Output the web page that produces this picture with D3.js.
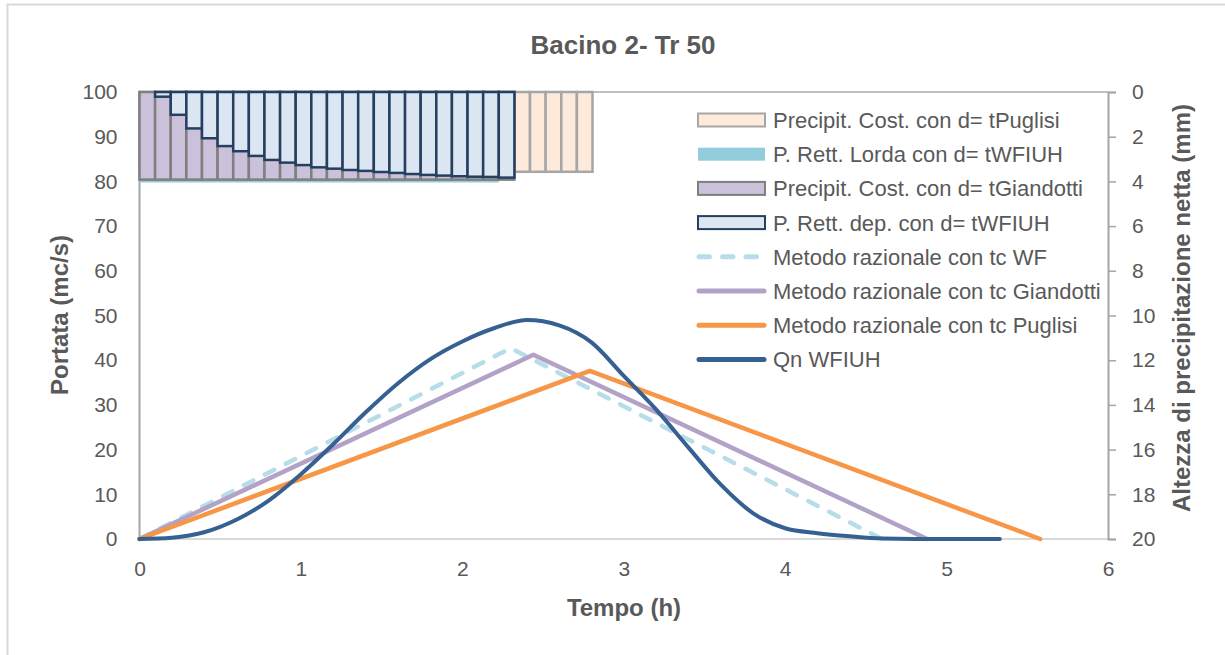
<!DOCTYPE html>
<html>
<head>
<meta charset="utf-8">
<script src="https://cdn.jsdelivr.net/npm/d3@7"></script>
<style>
  body { margin: 0; background: #fff; }
  svg text { font-family: "Liberation Sans", Arial, sans-serif; fill: #595959; }
</style>
</head>
<body>
<div id="chart"></div>
<script>
// ---- data -------------------------------------------------------
const xTicks = [0, 1, 2, 3, 4, 5, 6];
const qTicks = [0, 10, 20, 30, 40, 50, 60, 70, 80, 90, 100];
const mmTicks = [0, 2, 4, 6, 8, 10, 12, 14, 16, 18, 20];

// rain bars (mm), one per time step, hanging from the top
const pPuglisi = [3.57, 3.57, 3.57, 3.57, 3.57, 3.57, 3.57, 3.57, 3.57, 3.57,
                  3.57, 3.57, 3.57, 3.57, 3.57, 3.57, 3.57, 3.57, 3.57, 3.57,
                  3.57, 3.57, 3.57, 3.57, 3.57, 3.57, 3.57, 3.57, 3.57];
const pLorda = [4.05, 4.05, 4.05, 4.05, 4.05, 4.05, 4.05, 4.05, 4.05, 4.05,
                4.05, 4.05, 4.05, 4.05, 4.05, 4.05, 4.05, 4.05, 4.05, 4.05,
                4.05, 4.05, 4.05];
const pGiandotti = [3.92, 3.92, 3.92, 3.92, 3.92, 3.92, 3.92, 3.92, 3.92, 3.92,
                    3.92, 3.92, 3.92, 3.92, 3.92, 3.92, 3.92, 3.92, 3.92, 3.92,
                    3.92, 3.92, 3.92, 3.92];
const pDep = [0, 0.21, 1.02, 1.63, 2.07, 2.42, 2.65, 2.86, 3.04, 3.16,
              3.27, 3.37, 3.43, 3.49, 3.53, 3.58, 3.62, 3.67, 3.71, 3.74,
              3.77, 3.79, 3.80, 3.83];

// rational method hydrographs (t in h, Q in mc/s)
const wfT = [0, 2.30, 4.60],        wfQ = [0, 42.7, 0];
const giaT = [0, 2.44, 4.88],       giaQ = [0, 41.2, 0];
const pugT = [0, 2.79, 5.58],       pugQ = [0, 37.6, 0];

// WFIUH hydrograph
const qnT = [0, 0.2, 0.4, 0.6, 0.8, 1.0, 1.2, 1.4, 1.6, 1.8, 2.0, 2.2, 2.4,
             2.6, 2.8, 3.0, 3.2, 3.4, 3.6, 3.8, 4.0, 4.2, 4.4, 4.6, 4.8, 5.0, 5.33];
const qnQ = [0, 0.3, 1.5, 4.3, 8.6, 14.5, 21.2, 28.3, 34.8, 40.2, 44.2, 47.2, 49.0,
             47.8, 44.0, 36.5, 29.0, 20.5, 12.2, 5.8, 2.4, 1.3, 0.6, 0.1, 0, 0, 0];

const legendLabels = [
  'Precipit. Cost. con d= tPuglisi',
  'P. Rett. Lorda con d= tWFIUH',
  'Precipit. Cost. con d= tGiandotti',
  'P. Rett. dep. con d= tWFIUH',
  'Metodo razionale con tc WF',
  'Metodo razionale con tc Giandotti',
  'Metodo razionale con tc Puglisi',
  'Qn WFIUH'
];

// ---- layout -----------------------------------------------------
const W = 1225, H = 655;
const pLeft = 139.5, pRight = 1108, pTop = 92, pBottom = 539;
const nSlots = 62;   // category slots of the secondary (bar) axis

const svg = d3.select('#chart').append('svg')
  .attr('width', W).attr('height', H);

// outer chart frame
svg.append('rect')
  .attr('x', 7.5).attr('y', 4.5)
  .attr('width', W + 20).attr('height', H + 20)
  .attr('fill', 'none').attr('stroke', '#d9d9d9').attr('stroke-width', 2);

const x = d3.scaleLinear().domain([0, 6]).range([pLeft, pRight]);
const y = d3.scaleLinear().domain([0, 100]).range([pBottom, pTop]);
const yMm = d3.scaleLinear().domain([0, 20]).range([pTop, pBottom]);
const xb = d3.scaleBand().domain(d3.range(nSlots)).range([pLeft, pRight]).paddingInner(0);

// title
svg.append('text')
  .attr('x', 623).attr('y', 54)
  .attr('text-anchor', 'middle')
  .attr('font-size', '26px').attr('font-weight', 'bold')
  .text('Bacino 2- Tr 50');

// axis lines
svg.append('line')
  .attr('x1', pLeft).attr('x2', pRight).attr('y1', pBottom).attr('y2', pBottom)
  .attr('stroke', '#d9d9d9').attr('stroke-width', 2);
svg.append('line')
  .attr('x1', pLeft).attr('x2', pRight).attr('y1', pTop).attr('y2', pTop)
  .attr('stroke', '#bfbfbf').attr('stroke-width', 2);
svg.append('line')
  .attr('x1', pLeft).attr('x2', pLeft).attr('y1', pTop).attr('y2', pBottom)
  .attr('stroke', '#a6a6a6').attr('stroke-width', 2);

// right axis (reversed mm)
const rAxis = svg.append('g')
  .attr('transform', `translate(${pRight},0)`)
  .call(d3.axisRight(yMm).tickValues(mmTicks).tickSize(8).tickPadding(16));
rAxis.select('.domain').attr('stroke', '#a6a6a6').attr('stroke-width', 2);
rAxis.selectAll('.tick line').attr('stroke', '#a6a6a6').attr('stroke-width', 1.5);
rAxis.selectAll('.tick text')
  .attr('fill', '#595959').attr('font-size', '21px')
  .attr('font-family', '"Liberation Sans", Arial, sans-serif');

// left axis labels
const lAxis = svg.append('g')
  .attr('transform', `translate(${pLeft},0)`)
  .call(d3.axisLeft(y).tickValues(qTicks).tickSize(0).tickPadding(22));
lAxis.select('.domain').remove();
lAxis.selectAll('.tick text')
  .attr('fill', '#595959').attr('font-size', '21px')
  .attr('font-family', '"Liberation Sans", Arial, sans-serif');

// bottom axis labels
const bAxis = svg.append('g')
  .attr('transform', `translate(0,${pBottom})`)
  .call(d3.axisBottom(x).tickValues(xTicks).tickFormat(d3.format('d'))
    .tickSize(0).tickPadding(22));
bAxis.select('.domain').remove();
bAxis.selectAll('.tick text')
  .attr('fill', '#595959').attr('font-size', '21px')
  .attr('font-family', '"Liberation Sans", Arial, sans-serif');

// axis titles
svg.append('text')
  .attr('transform', `translate(68,315) rotate(-90)`)
  .attr('text-anchor', 'middle')
  .attr('font-size', '24px').attr('font-weight', 'bold')
  .text('Portata (mc/s)');
svg.append('text')
  .attr('transform', `translate(1190,308) rotate(-90)`)
  .attr('text-anchor', 'middle')
  .attr('font-size', '24px').attr('font-weight', 'bold')
  .text('Altezza di precipitazione netta (mm)');
svg.append('text')
  .attr('x', 624).attr('y', 616)
  .attr('text-anchor', 'middle')
  .attr('font-size', '24px').attr('font-weight', 'bold')
  .text('Tempo (h)');

// ---- rain bars --------------------------------------------------
function bars(vals, fill, stroke, sw) {
  svg.append('g').selectAll('rect')
    .data(vals.map((v, i) => ({ i, v })).filter(d => d.v > 0))
    .join('rect')
      .attr('x', d => xb(d.i))
      .attr('y', yMm(0))
      .attr('width', xb.bandwidth())
      .attr('height', d => yMm(d.v) - yMm(0))
      .attr('fill', fill)
      .attr('stroke', stroke)
      .attr('stroke-width', sw);
}
bars(pPuglisi, '#fdeada', '#a6a6a6', 2.5);
bars(pLorda, '#92cddc', 'none', 0);
bars(pGiandotti, '#ccc1da', '#7f7f7f', 2.5);
bars(pDep, '#dce6f2', '#243f60', 2.5);

// ---- lines ------------------------------------------------------
const lineStraight = d3.line().x(d => x(d[0])).y(d => y(d[1]));
const lineSmooth = d3.line().x(d => x(d[0])).y(d => y(d[1])).curve(d3.curveMonotoneX);

function drawLine(ts, qs, gen, color, w, dash) {
  svg.append('path')
    .datum(ts.map((t, i) => [t, qs[i]]))
    .attr('d', gen)
    .attr('fill', 'none')
    .attr('stroke', color)
    .attr('stroke-width', w)
    .attr('stroke-linecap', 'round')
    .attr('stroke-linejoin', 'round')
    .attr('stroke-dasharray', dash || null);
}
drawLine(wfT, wfQ, lineStraight, '#b7dee8', 4.5, '10.5 13');
drawLine(giaT, giaQ, lineStraight, '#b3a2c7', 4.5);
drawLine(pugT, pugQ, lineStraight, '#f79646', 4.5);
drawLine(qnT, qnQ, lineSmooth, '#376092', 4);

// ---- legend -----------------------------------------------------
const legendStyles = [
  { type: 'rect', fill: '#fdeada', stroke: '#a6a6a6' },
  { type: 'rect', fill: '#92cddc', stroke: 'none' },
  { type: 'rect', fill: '#ccc1da', stroke: '#7f7f7f' },
  { type: 'rect', fill: '#dce6f2', stroke: '#243f60' },
  { type: 'line', color: '#b7dee8', dash: '10.5 13' },
  { type: 'line', color: '#b3a2c7' },
  { type: 'line', color: '#f79646' },
  { type: 'line', color: '#376092' }
];
const legend = svg.append('g').attr('transform', 'translate(697,120)');
legendLabels.forEach((label, i) => {
  const g = legend.append('g').attr('transform', `translate(0,${i * 34.2})`);
  const s = legendStyles[i];
  if (s.type === 'rect') {
    g.append('rect')
      .attr('x', 1).attr('y', -6.5).attr('width', 67).attr('height', 13)
      .attr('fill', s.fill).attr('stroke', s.stroke).attr('stroke-width', 2);
  } else {
    g.append('line')
      .attr('x1', 2).attr('x2', 67).attr('y1', 0).attr('y2', 0)
      .attr('stroke', s.color).attr('stroke-width', 5)
      .attr('stroke-linecap', 'round')
      .attr('stroke-dasharray', s.dash || null);
  }
  g.append('text')
    .attr('x', 76).attr('y', 0).attr('dy', '0.36em')
    .attr('font-size', '22px')
    .text(label);
});
</script>
</body>
</html>
